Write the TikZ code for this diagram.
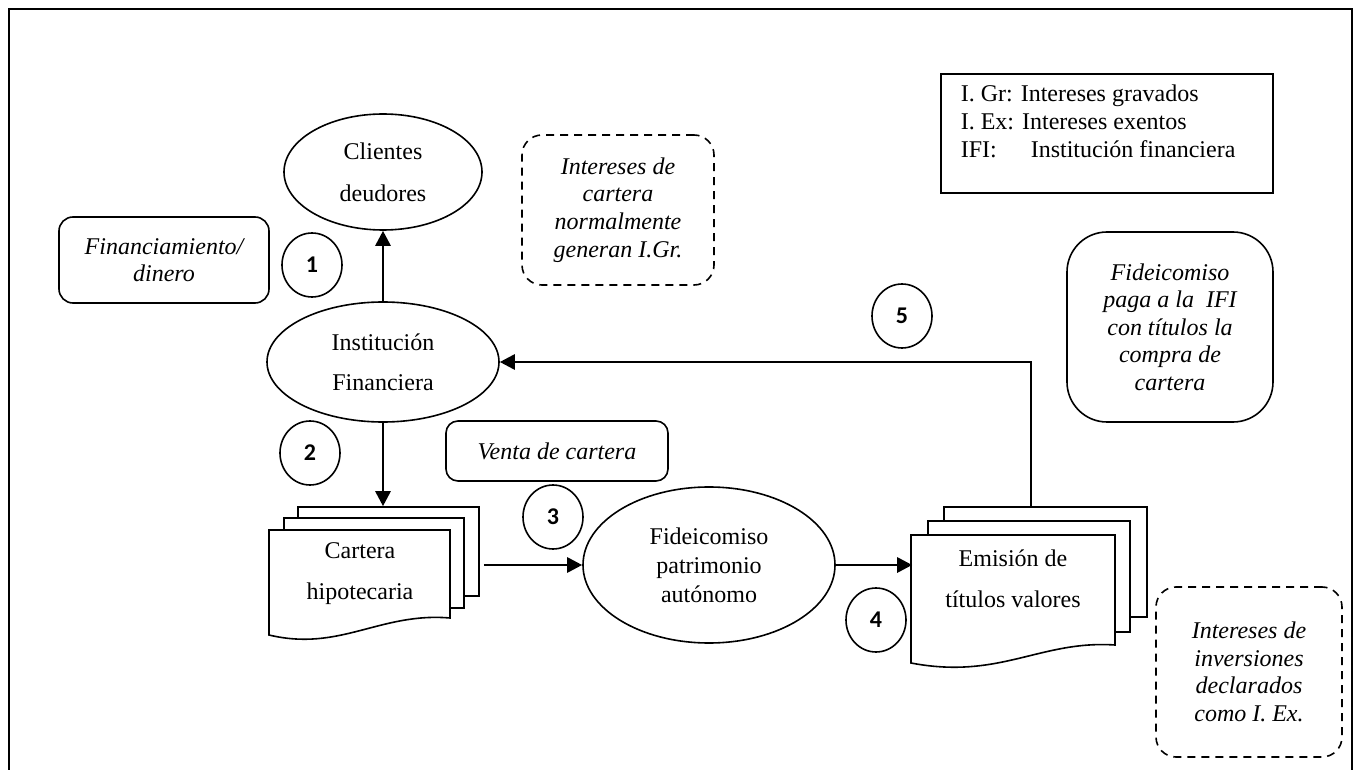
\documentclass[tikz,border=0pt]{standalone}
\usepackage{fontspec}
\setmainfont{Liberation Serif}
\newfontfamily\numfont{Carlito}
\usetikzlibrary{shapes.geometric,arrows.meta}

\begin{document}
\begin{tikzpicture}[x=0.5pt,y=-0.5pt]
    \useasboundingbox (0,0) rectangle (1361,770);
    \begin{scope}[line width=0.8pt, font=\fontsize{12}{14}\selectfont,
        elli/.style={draw,ellipse,inner sep=0pt,align=center},
        nota/.style={draw,rounded corners=7pt,inner sep=0pt,align=center,font=\fontsize{12}{13.8}\selectfont\itshape},
        punteada/.style={nota,dash pattern=on 4pt off 3pt,rounded corners=10pt},
        num/.style={draw,ellipse,inner sep=0pt,minimum width=30pt,minimum height=32pt,font=\numfont\bfseries\fontsize{12}{14}\selectfont},
        flecha/.style={line width=1.4pt,-{Triangle[length=7.5pt,width=7.5pt]}}]
    % marco
    \draw[line width=1pt] (9,770) -- (9,9) -- (1352,9) -- (1352,770);
    % elipses
    \node[elli,minimum width=99pt,minimum height=58pt,font=\fontsize{12}{21}\selectfont] (clientes) at (383,172) {Clientes\\deudores};
    \node[elli,minimum width=116pt,minimum height=60pt,font=\fontsize{12}{20}\selectfont] (inst) at (383,362) {Institución\\Financiera};
    \node[elli,minimum width=126pt,minimum height=78pt,font=\fontsize{12}{14.5}\selectfont] (fide) at (709,565) {Fideicomiso\\patrimonio\\autónomo};
    % notas
    \node[nota,minimum width=105pt,minimum height=43pt] (finan) at (164,260) {Financiamiento/\\dinero};
    \node[punteada,minimum width=96pt,minimum height=75pt] (intcart) at (618,210) {Intereses de\\cartera\\normalmente\\generan I.Gr.};
    \node[nota,minimum width=103pt,minimum height=95pt,rounded corners=20pt] (paga) at (1170,327) {Fideicomiso\\paga a la \ IFI\\con títulos la\\compra de\\cartera};
    \node[nota,minimum width=111pt,minimum height=30pt,rounded corners=6pt] (venta) at (557,451) {Venta de cartera};
    \node[punteada,minimum width=93pt,minimum height=85pt] (intinv) at (1249,672) {Intereses de\\inversiones\\declarados\\como I. Ex.};
    % leyenda
    \node[draw,minimum width=166pt,minimum height=59.5pt,inner sep=0pt] (leyenda) at (1107,133.5) {};
    \node[anchor=north west,align=left,inner sep=0pt] (leytexto) at (960,84) {I. Gr: Intereses gravados\\I. Ex: Intereses exentos\\\makebox[35pt][l]{IFI:}Institución financiera};
    % numeros
    \node[num] (n1) at (312,265) {1};
    \node[num] (n2) at (310,453) {2};
    \node[num] (n3) at (553,517) {3};
    \node[num] (n4) at (876,620) {4};
    \node[num] (n5) at (902,316) {5};
    % cartera hipotecaria
    \filldraw[fill=white] (298,507) rectangle (479,596);
    \filldraw[fill=white] (284,518) rectangle (464,608);
    \filldraw[fill=white] (269,530) -- (450,530) -- (450,618) .. controls (380,612) and (340,652) .. (269,635) -- cycle;
    \node[align=center,font=\fontsize{12}{20.5}\selectfont] (carttexto) at (360,574) {Cartera\\hipotecaria};
    \node[inner sep=0pt,minimum width=105pt,minimum height=66.5pt] (cartera) at (374,573.5) {};
    % emision de titulos
    \filldraw[fill=white] (944,507) rectangle (1147,617);
    \filldraw[fill=white] (928,521) rectangle (1130,632);
    \filldraw[fill=white] (911,535) -- (1115,535) -- (1115,645) .. controls (1040,640) and (1000,680) .. (911,663) -- cycle;
    \node[align=center,font=\fontsize{12}{20.5}\selectfont] (emitexto) at (1013,579) {Emisión de\\títulos valores};
    \node[inner sep=0pt,minimum width=118pt,minimum height=83pt] (emision) at (1031,590) {};
    % flechas
    \draw[flecha] (inst.north) -- (clientes.south);
    \draw[flecha] (inst.south) -- (inst.south |- cartera.north);
    \draw[flecha,shorten <=2pt] (cartera.east |- fide.west) -- (fide.west);
    \draw[flecha] (fide.east) -- (emision.west |- fide.east);
    \draw[flecha] (emision.north) |- (inst.east);
    \end{scope}
\end{tikzpicture}
\end{document}
